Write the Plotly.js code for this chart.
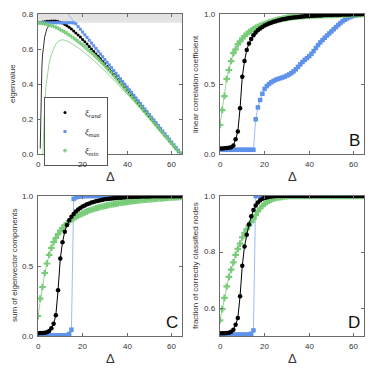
<!DOCTYPE html>
<html>
<head>
<meta charset="utf-8">
<script src="https://cdn.plot.ly/plotly-3.0.1.min.js"></script>
<style>
  html, body { margin: 0; padding: 0; background: #fff; }
  #fig { width: 374px; height: 374px; }
</style>
</head>
<body>
<div id="fig"></div>
<script>
// Δ grid shared by every panel (one point per integer)
const DELTA = [0,1,2,3,4,5,6,7,8,9,10,11,12,13,14,15,16,17,18,19,20,21,22,23,24,25,26,27,28,29,30,31,32,
  33,34,35,36,37,38,39,40,41,42,43,44,45,46,47,48,49,50,51,52,53,54,55,56,57,58,59,60,61,62,63,64];

// --- Panel A : eigenvalues ---
const EIG_RAND = [.750,.752,.754,.756,.758,.759,.760,.760,.760,.757,.753,.748,.741,.733,.724,.714,.703,.692,.680,.668,
  .655,.642,.628,.614,.600,.586,.572,.558,.544,.530,.516,.501,.486,.471,.456,.441,.426,.411,.396,.381,
  .366,.351,.336,.320,.305,.290,.275,.259,.244,.229,.213,.198,.183,.167,.152,.137,.121,.106,.091,.075,
  .060,.045,.030,.015,.002];
const EIG_MAX = [.750,.750,.750,.750,.750,.750,.750,.750,.750,.750,.750,.750,.750,.750,.750,.750,.749,.744,.728,.713,
  .697,.681,.666,.650,.634,.618,.603,.587,.571,.556,.540,.524,.509,.493,.477,.461,.446,.430,.414,.399,
  .383,.367,.352,.336,.320,.304,.289,.273,.257,.242,.226,.210,.195,.179,.163,.147,.132,.116,.100,.085,
  .069,.053,.038,.022,.006];
const EIG_MIN = [.750,.748,.746,.743,.740,.737,.733,.729,.724,.718,.711,.704,.697,.689,.680,.671,.662,.653,.643,.633,
  .623,.612,.601,.590,.579,.567,.555,.543,.530,.517,.504,.490,.476,.462,.447,.432,.418,.403,.388,.373,
  .358,.343,.328,.313,.298,.283,.268,.253,.238,.223,.208,.193,.178,.163,.148,.133,.118,.103,.089,.074,
  .059,.044,.029,.015,.000];

// thin theory curves in panel A
const TH_RAND_X = [1.0,1.1,1.2,1.35,1.5,1.75,2,2.5,3,4,5,6,7,8,10,15,20,30,40,50,60,64];
const TH_RAND_Y = [0.03,0.12,0.22,0.33,0.41,0.5,0.56,0.63,0.67,0.715,0.738,0.751,0.758,0.76,0.753,0.714,0.655,0.516,0.366,0.213,0.06,0.002];
const TH_MIN_X = [2.2,2.5,3,3.5,4,5,6,7,8,9,10,11,12,14,16,18,20,25,30,35,40,45,50,55,60,64];
const TH_MIN_Y = [0,0.12,0.28,0.38,0.44,0.52,0.57,0.605,0.628,0.643,0.65,0.652,0.65,0.64,0.625,0.607,0.588,0.535,0.475,0.41,0.345,0.275,0.205,0.135,0.065,0];
const TH_MAX_X = [13, 64];
const TH_MAX_Y = [0.807, 0.006];

// --- Panel B : linear correlation coefficient ---
const COR_RAND = [.040,.040,.041,.042,.045,.048,.060,.105,.160,.326,.552,.664,.743,.790,.822,.848,.868,.884,.897,.908,
  .917,.925,.932,.938,.944,.949,.954,.958,.962,.965,.968,.971,.973,.975,.977,.979,.981,.982,.984,.985,
  .986,.987,.988,.989,.990,.990,.991,.992,.992,.993,.993,.994,.994,.995,.995,.996,.996,.997,.997,.998,
  .998,.998,.999,.999,1.0];
const COR_MAX = [.030,.030,.030,.030,.030,.030,.030,.030,.030,.030,.030,.030,.030,.030,.030,.030,.248,.333,.386,.430,
  .465,.485,.500,.512,.522,.530,.536,.541,.546,.552,.560,.568,.578,.590,.605,.622,.640,.657,.672,.685,
  .698,.715,.735,.757,.778,.797,.814,.830,.846,.861,.876,.891,.906,.921,.935,.948,.959,.968,.976,.982,
  .987,.991,.995,.998,1.0];
const COR_MIN = [.207,.314,.414,.536,.600,.664,.720,.748,.783,.805,.826,.843,.858,.871,.882,.892,.901,.909,.916,.922,
  .928,.934,.940,.945,.950,.955,.959,.962,.966,.969,.972,.974,.977,.979,.981,.983,.984,.985,.986,.987,
  .988,.989,.990,.990,.991,.991,.992,.992,.993,.993,.994,.994,.995,.995,.996,.996,.997,.997,.998,.998,
  .998,.999,.999,.999,1.0];

// --- Panel C : sum of eigenvector components ---
const SUM_RAND = [.020,.021,.022,.024,.027,.035,.055,.088,.148,.327,.553,.670,.745,.792,.826,.852,.872,.889,.903,.915,
  .925,.933,.941,.947,.953,.958,.962,.966,.970,.973,.976,.978,.980,.982,.984,.986,.987,.988,.990,.991,
  .992,.993,.993,.994,.995,.995,.996,.996,.997,.997,.997,.998,.998,.998,.998,.999,.999,.999,.999,.999,
  .999,.999,.999,.999,.999];
const SUM_MAX = [.005,.005,.005,.005,.005,.005,.005,.005,.005,.005,.005,.005,.005,.006,.015,.045,.980,.990,.995,.998,
  .999,.999,1.0,1.0,1.0,1.0,1.0,1.0,1.0,1.0,1.0,1.0,1.0,1.0,1.0,1.0,1.0,1.0,1.0,1.0,
  1.0,1.0,1.0,1.0,1.0,1.0,1.0,1.0,1.0,1.0,1.0,1.0,1.0,1.0,1.0,1.0,1.0,1.0,1.0,1.0,
  1.0,1.0,1.0,1.0,1.0];
const SUM_MIN = [.143,.267,.350,.450,.518,.580,.630,.670,.700,.728,.752,.772,.790,.805,.818,.830,.841,.851,.860,.868,
  .876,.883,.890,.896,.902,.907,.912,.917,.921,.925,.929,.933,.936,.939,.942,.945,.948,.951,.953,.956,
  .958,.960,.962,.964,.966,.968,.970,.972,.973,.975,.976,.978,.979,.981,.982,.983,.985,.986,.987,.988,
  .989,.990,.991,.992,.993];

// --- Panel D : fraction of correctly classified nodes ---
const FRC_RAND = [.510,.510,.510,.511,.512,.515,.522,.540,.564,.642,.751,.820,.862,.898,.928,.950,.966,.977,.985,.990,
  .993,.995,.997,.998,.999,1.0,1.0,1.0,1.0,1.0,1.0,1.0,1.0,1.0,1.0,1.0,1.0,1.0,1.0,1.0,
  1.0,1.0,1.0,1.0,1.0,1.0,1.0,1.0,1.0,1.0,1.0,1.0,1.0,1.0,1.0,1.0,1.0,1.0,1.0,1.0,
  1.0,1.0,1.0,1.0,1.0];
const FRC_MAX = [.505,.505,.505,.505,.505,.505,.505,.505,.505,.505,.505,.505,.505,.505,.508,.520,1.0,1.0,1.0,1.0,
  1.0,1.0,1.0,1.0,1.0,1.0,1.0,1.0,1.0,1.0,1.0,1.0,1.0,1.0,1.0,1.0,1.0,1.0,1.0,1.0,
  1.0,1.0,1.0,1.0,1.0,1.0,1.0,1.0,1.0,1.0,1.0,1.0,1.0,1.0,1.0,1.0,1.0,1.0,1.0,1.0,
  1.0,1.0,1.0,1.0,1.0];
const FRC_MIN = [.556,.596,.636,.677,.711,.737,.763,.790,.811,.830,.852,.868,.882,.895,.907,.918,.932,.945,.956,.965,
  .972,.978,.983,.987,.990,.993,.995,.996,.997,.998,.999,1.0,1.0,1.0,1.0,1.0,1.0,1.0,1.0,1.0,
  1.0,1.0,1.0,1.0,1.0,1.0,1.0,1.0,1.0,1.0,1.0,1.0,1.0,1.0,1.0,1.0,1.0,1.0,1.0,1.0,
  1.0,1.0,1.0,1.0,1.0];

// tick labels and axis titles
const X_TICKS = [0, 20, 40, 60];
const Y_TICKS_A = [0, 0.2, 0.4, 0.6, 0.8];
const Y_TICKS_BC = [0, 0.5, 1];
const Y_TICKS_D = [0.6, 0.8, 1];
const Y_TITLES = ['eigenvalue', 'linear correlation coefficient', 'sum of eigenvector components',
  'fraction of correctly classified nodes'];

(function () {
  'use strict';

  const COL = { rand: '#000000', max: '#5f92ea', min: '#79cc79', maxLine: '#9dbcf2', minLine: '#95d895' };
  const FRAME = '#6a6a6a';
  const SANS = 'Liberation Sans, Arial, sans-serif';
  const X_RANGE = [0, 64.6];

  // panels placed by pixel boxes inside the plot area
  const W = 374, H = 374;
  const M = { l: 38, r: 10, t: 14, b: 38 };
  const PW = W - M.l - M.r, PH = H - M.t - M.b;
  const colX = [[38, 182], [220, 364]];
  const rowY = [[14, 154], [196, 336]];
  const dx = c => [(colX[c][0] - M.l) / PW, (colX[c][1] - M.l) / PW];
  const dy = r => [(H - M.b - rowY[r][1]) / PH, (H - M.b - rowY[r][0]) / PH];

  function panelTraces(xa, ya, yr, ym, yn) {
    return [
      { x: DELTA, y: ym, xaxis: xa, yaxis: ya, mode: 'lines+markers', showlegend: false,
        line: { color: COL.maxLine, width: 1 }, marker: { symbol: 'square', size: 4.5, color: COL.max } },
      { x: DELTA, y: yn, xaxis: xa, yaxis: ya, mode: 'lines+markers', showlegend: false,
        line: { color: COL.minLine, width: 1 }, marker: { symbol: 'cross', size: 5.5, color: COL.min } },
      { x: DELTA, y: yr, xaxis: xa, yaxis: ya, mode: 'lines+markers', showlegend: false,
        line: { color: COL.rand, width: 1 }, marker: { symbol: 'circle', size: 4.5, color: COL.rand } }
    ];
  }

  const traces = [
    { x: TH_MIN_X, y: TH_MIN_Y, mode: 'lines', showlegend: false, line: { color: COL.minLine, width: 1 } },
    { x: TH_MAX_X, y: TH_MAX_Y, mode: 'lines', showlegend: false, line: { color: COL.maxLine, width: 1 } },
    { x: TH_RAND_X, y: TH_RAND_Y, mode: 'lines', showlegend: false, line: { color: '#333', width: 1 } },
    // simulated points (panel A) carry the legend
    { x: DELTA, y: EIG_RAND, mode: 'markers', name: '<i>ξ<sub>rand</sub></i>',
      marker: { symbol: 'circle', size: 3, color: COL.rand } },
    { x: DELTA, y: EIG_MAX, mode: 'markers', name: '<i>ξ<sub>max</sub></i>',
      marker: { symbol: 'square', size: 3, color: COL.max } },
    { x: DELTA, y: EIG_MIN, mode: 'markers', name: '<i>ξ<sub>min</sub></i>',
      marker: { symbol: 'cross', size: 3.5, color: COL.min } }
  ].concat(
    panelTraces('x2', 'y2', COR_RAND, COR_MAX, COR_MIN),
    panelTraces('x3', 'y3', SUM_RAND, SUM_MAX, SUM_MIN),
    panelTraces('x4', 'y4', FRC_RAND, FRC_MAX, FRC_MIN)
  );

  // axes: frame + inward ticks; labels are written as paper annotations below
  const common = {
    ticks: 'inside', ticklen: 3, tickcolor: FRAME,
    showline: true, linecolor: FRAME, linewidth: 1, mirror: 'ticks',
    showgrid: false, zeroline: false, showticklabels: false
  };
  const xAxis = (c, anchor) => Object.assign({}, common, {
    domain: dx(c), anchor: anchor, range: X_RANGE, tickmode: 'array', tickvals: X_TICKS
  });
  const yAxis = (r, anchor, range, vals) => Object.assign({}, common, {
    domain: dy(r), anchor: anchor, range: range, tickmode: 'array', tickvals: vals
  });

  // place a value on a panel's axis in paper fraction
  const frac = (dom, range, v) => dom[0] + (v - range[0]) / (range[1] - range[0]) * (dom[1] - dom[0]);

  const notes = [];
  const panels = [
    { c: 0, r: 0, yr: [0, 0.8], yt: Y_TICKS_A, title: Y_TITLES[0], tshift: -26 },
    { c: 1, r: 0, yr: [0, 1], yt: Y_TICKS_BC, title: Y_TITLES[1], tshift: -25 },
    { c: 0, r: 1, yr: [0, 1], yt: Y_TICKS_BC, title: Y_TITLES[2], tshift: -24 },
    { c: 1, r: 1, yr: [0.5, 1], yt: Y_TICKS_D, title: Y_TITLES[3], tshift: -25 }
  ];
  panels.forEach(p => {
    const xd = dx(p.c), yd = dy(p.r);
    p.yt.forEach(v => notes.push({ text: v.toFixed(1), xref: 'paper', x: xd[0], yref: 'paper', y: frac(yd, p.yr, v),
      xanchor: 'right', yanchor: 'middle', xshift: -2, showarrow: false,
      font: { family: SANS, size: 8, color: '#333' } }));
    X_TICKS.forEach(v => notes.push({ text: String(v), xref: 'paper', x: frac(xd, X_RANGE, v), yref: 'paper', y: yd[0],
      xanchor: 'center', yanchor: 'middle', yshift: -10, showarrow: false,
      font: { family: SANS, size: 8, color: '#333' } }));
    notes.push({ text: p.title, textangle: -90, xref: 'paper', x: xd[0], yref: 'paper', y: (yd[0] + yd[1]) / 2,
      xanchor: 'center', yanchor: 'middle', xshift: p.tshift, showarrow: false,
      font: { family: SANS, size: 8, color: '#333' } });
    notes.push({ text: 'Δ', xref: 'paper', x: (xd[0] + xd[1]) / 2, yref: 'paper', y: yd[0],
      xanchor: 'center', yanchor: 'middle', yshift: -22, showarrow: false,
      font: { family: SANS, size: 13, color: '#333' } });
  });
  [['B', 1, 0], ['C', 0, 1], ['D', 1, 1]].forEach(([t, c, r]) => notes.push({
    text: t, xref: 'paper', yref: 'paper', x: dx(c)[1], y: dy(r)[0], xshift: -2, yshift: 2,
    xanchor: 'right', yanchor: 'bottom', showarrow: false, font: { family: SANS, size: 17, color: '#111' } }));

  const layout = {
    width: W, height: H,
    margin: M,
    xaxis: xAxis(0, 'y'),
    yaxis: yAxis(0, 'x', [0, 0.8], Y_TICKS_A),
    xaxis2: xAxis(1, 'y2'),
    yaxis2: yAxis(0, 'x2', [0, 1], Y_TICKS_BC),
    xaxis3: xAxis(0, 'y3'),
    yaxis3: yAxis(1, 'x3', [0, 1], Y_TICKS_BC),
    xaxis4: xAxis(1, 'y4'),
    yaxis4: yAxis(1, 'x4', [0.5, 1], Y_TICKS_D),
    shapes: [{ type: 'rect', xref: 'x domain', yref: 'y', x0: 0, x1: 1, y0: 0.75, y1: 0.8,
      fillcolor: '#e3e3e3', line: { width: 0 }, layer: 'below' }],
    annotations: notes,
    showlegend: true,
    legend: {
      x: (44 - M.l) / PW, y: (H - M.b - 97) / PH, xanchor: 'left', yanchor: 'top',
      bordercolor: '#555', borderwidth: 1,
      font: { family: 'Liberation Serif, serif', size: 9, color: '#222' }
    }
  };

  Plotly.newPlot('fig', traces, layout, { staticPlot: true });
})();
</script>
</body>
</html>
